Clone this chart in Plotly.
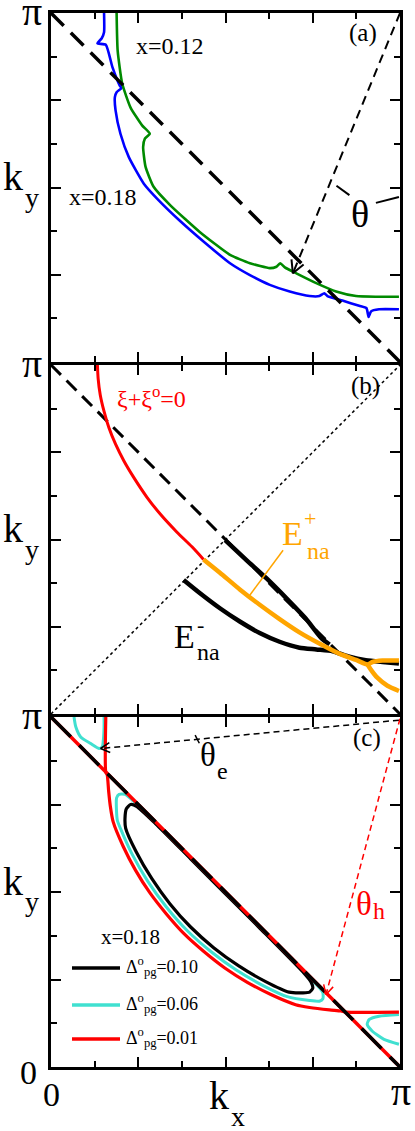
import numpy as np
import plotly.graph_objects as go

# ---------------- data (k in units of pi) ----------------
diag_kx = [0.0, 1.0]
diag_ky = [1.0, 0.0]
# panel (a): Fermi surfaces
a_blue_kx = [0.152, 0.152, 0.145, 0.133, 0.157, 0.176, 0.197, 0.202, 0.188, 0.183, 0.185, 0.199, 0.223, 0.266,
             0.308, 0.370, 0.442, 0.513, 0.570, 0.627, 0.684, 0.741, 0.769, 0.783, 0.792, 0.835, 0.883, 0.904,
             0.910, 0.917, 0.940, 0.997]
a_blue_ky = [1.0, 0.945, 0.927, 0.913, 0.909, 0.845, 0.792, 0.785, 0.773, 0.759, 0.721, 0.654, 0.587, 0.511,
             0.464, 0.404, 0.341, 0.283, 0.249, 0.221, 0.202, 0.189, 0.189, 0.197, 0.189, 0.176, 0.161, 0.154,
             0.129, 0.145, 0.151, 0.151]
a_green_kx = [0.188, 0.191, 0.204, 0.228, 0.261, 0.283, 0.269, 0.264, 0.271, 0.294, 0.342, 0.427, 0.513, 0.570,
              0.627, 0.646, 0.657, 0.670, 0.703, 0.760, 0.817, 0.874, 0.931, 0.997]
a_green_ky = [1.0, 0.892, 0.798, 0.729, 0.678, 0.654, 0.640, 0.616, 0.559, 0.502, 0.449, 0.372, 0.307, 0.283,
              0.269, 0.273, 0.283, 0.271, 0.254, 0.226, 0.202, 0.189, 0.187, 0.187]
a_theta_kx = [1.0, 0.693]
a_theta_ky = [1.0, 0.254]
a_arc1_kx, a_arc1_ky = [0.818, 0.855], [0.505, 0.478]
a_arc2_kx, a_arc2_ky = [0.931, 0.997], [0.456, 0.473]

# panel (b)
b_red_kx = [0.133, 0.135, 0.141, 0.152, 0.166, 0.185, 0.209, 0.237, 0.275, 0.313, 0.361, 0.404, 0.437]
b_red_ky = [1.0, 0.962, 0.915, 0.867, 0.820, 0.773, 0.725, 0.678, 0.621, 0.573, 0.521, 0.479, 0.443]
b_or_kx = [0.437, 0.484, 0.541, 0.598, 0.655, 0.712, 0.769, 0.826, 0.874, 0.907, 0.921, 0.950, 0.997]
b_or_ky = [0.443, 0.405, 0.357, 0.313, 0.272, 0.234, 0.202, 0.173, 0.155, 0.142, 0.149, 0.153, 0.153]
b_or2_kx = [0.907, 0.916, 0.935, 0.964, 0.997]
b_or2_ky = [0.142, 0.128, 0.104, 0.081, 0.066]
b_bk1_kx = [0.499, 0.560, 0.617, 0.674, 0.731, 0.774, 0.798]
b_bk1_ky = [0.498, 0.441, 0.389, 0.332, 0.272, 0.218, 0.199]
b_bk2_kx = [0.380, 0.427, 0.484, 0.541, 0.598, 0.655, 0.712, 0.760, 0.807, 0.855, 0.902, 0.950, 0.997]
b_bk2_ky = [0.384, 0.346, 0.303, 0.265, 0.232, 0.207, 0.190, 0.185, 0.180, 0.164, 0.154, 0.149, 0.145]
b_ptr_kx, b_ptr_ky = [0.665, 0.570], [0.469, 0.341]

# panel (c)
c_red_kx = [0.157, 0.157, 0.161, 0.165, 0.170, 0.178, 0.207, 0.242, 0.283, 0.330, 0.381, 0.438, 0.498, 0.5625,
            0.630, 0.701, 0.741, 0.798, 0.831, 0.845, 0.997]
c_red_ky = [1.0, 0.842, 0.835, 0.790, 0.745, 0.701, 0.630, 0.5625, 0.498, 0.438, 0.381, 0.330, 0.283, 0.242,
            0.207, 0.178, 0.170, 0.163, 0.160, 0.157, 0.157]
c_black_kx = [0.214, 0.244, 0.289, 0.341, 0.400, 0.466, 0.538, 0.615, 0.682, 0.722, 0.741, 0.750, 0.745, 0.725,
              0.600, 0.500, 0.400, 0.300, 0.245, 0.228, 0.216, 0.212, 0.214]
c_black_ky = [0.682, 0.615, 0.538, 0.466, 0.400, 0.341, 0.289, 0.244, 0.214, 0.212, 0.214, 0.225, 0.243, 0.268,
              0.395, 0.495, 0.595, 0.695, 0.745, 0.750, 0.738, 0.710, 0.682]
c_cyan_kx = [0.190, 0.201, 0.232, 0.277, 0.330, 0.390, 0.458, 0.531, 0.609, 0.677, 0.741, 0.769, 0.779, 0.779,
             0.769, 0.500, 0.226, 0.212, 0.195, 0.188, 0.190]
c_cyan_ky = [0.705, 0.677, 0.609, 0.531, 0.458, 0.390, 0.330, 0.277, 0.232, 0.201, 0.190, 0.188, 0.195, 0.212,
             0.226, 0.495, 0.769, 0.779, 0.779, 0.769, 0.705]
c_cyan_tl_kx = [0.066, 0.071, 0.085, 0.114, 0.138, 0.147, 0.150, 0.152, 0.152]
c_cyan_tl_ky = [1.0, 0.972, 0.943, 0.924, 0.910, 0.915, 0.934, 0.972, 1.0]
c_cyan_br_kx = [0.997, 0.940, 0.912, 0.906, 0.920, 0.954, 0.997]
c_cyan_br_ky = [0.150, 0.145, 0.136, 0.122, 0.103, 0.079, 0.065]
c_te_kx, c_te_ky = [0.997, 0.142], [0.991, 0.910]
c_th_kx, c_th_ky = [1.0, 0.788], [0.995, 0.207]
c_temark_kx, c_temark_ky = [0.413, 0.425], [0.948, 0.925]

# ---------------- layout helpers ----------------
W, H = 415, 1131
X0, X1 = 51, 400
PANELS = [(13, 362), (365, 714), (717, 1067)]  # pixel top/bottom of each plot area
FONT = "Liberation Serif, Times New Roman, Times, serif"

fig = go.Figure()


def line(xs, ys, p, color, width, dash=None, shape="spline", smoothing=0.6):
    fig.add_trace(go.Scatter(x=xs, y=ys, mode="lines", xaxis="x" + ("" if p == 1 else str(p)),
                             yaxis="y" + ("" if p == 1 else str(p)),
                             line=dict(color=color, width=width, dash=dash, shape=shape, smoothing=smoothing),
                             showlegend=False, hoverinfo="skip"))


def arrowhead(xs, ys, p, color, L, width, ang=28):
    x0, y0, x1, y1 = xs[0], ys[0], xs[1], ys[1]
    d = np.array([x1 - x0, y1 - y0])
    d = d / np.linalg.norm(d)
    out_x, out_y = [], []
    for s in (1, -1):
        a = np.radians(ang) * s
        r = np.array([d[0] * np.cos(a) - d[1] * np.sin(a), d[0] * np.sin(a) + d[1] * np.cos(a)])
        out_x.append(x1 - L * r[0])
        out_y.append(y1 - L * r[1])
    line([out_x[0], x1, out_x[1]], [out_y[0], y1, out_y[1]], p, color, width, shape="linear")


OFF = {"cap": 0.0, "x": 0.11, "desc": 0.22, "paren": 0.08}
annots = []


def ann(text, cx, cy, size, color="black", kind="cap", xanchor="center"):
    cyb = cy - OFF[kind] * size
    annots.append(dict(text=text, x=cx / W, y=1 - cyb / H, xref="paper", yref="paper", showarrow=False,
                       xanchor=xanchor, yanchor="middle", font=dict(family=FONT, size=size, color=color)))


# ---------------- panel (a) ----------------
line(a_blue_kx, a_blue_ky, 1, "#0000ff", 2.6, smoothing=0.5)
line(a_green_kx, a_green_ky, 1, "#008a00", 2.6, smoothing=0.5)
line(diag_kx, diag_ky, 1, "black", 3.5, dash="18px,10px", shape="linear")
line(a_theta_kx, a_theta_ky, 1, "black", 2, dash="9px,6px", shape="linear")
arrowhead(a_theta_kx, a_theta_ky, 1, "black", 0.04, 2)
line(a_arc1_kx, a_arc1_ky, 1, "black", 2, shape="linear")
line(a_arc2_kx, a_arc2_ky, 1, "black", 2, shape="linear")

# ---------------- panel (b) ----------------
line([0, 1], [0, 1], 2, "black", 1.5, dash="dot", shape="linear")
line(diag_kx, diag_ky, 2, "black", 3, dash="14px,8px", shape="linear")
line(b_red_kx, b_red_ky, 2, "#ff0000", 3)
line(b_bk2_kx, b_bk2_ky, 2, "black", 4.5)
line(b_bk1_kx, b_bk1_ky, 2, "black", 4.5)
line(b_or_kx, b_or_ky, 2, "#ffa500", 4.5)
line(b_or2_kx, b_or2_ky, 2, "#ffa500", 4.5)
line(b_ptr_kx, b_ptr_ky, 2, "#ffa500", 1.5, shape="linear")

# ---------------- panel (c) ----------------
line(c_cyan_tl_kx, c_cyan_tl_ky, 3, "#40e0d0", 3)
line(c_cyan_br_kx, c_cyan_br_ky, 3, "#40e0d0", 3)
line(c_cyan_kx, c_cyan_ky, 3, "#40e0d0", 3)
line(c_black_kx, c_black_ky, 3, "black", 3.2)
line(c_red_kx, c_red_ky, 3, "#ff0000", 3.2)
line(diag_kx, diag_ky, 3, "#ff0000", 3.5, shape="linear")
line(diag_kx, diag_ky, 3, "black", 3.5, dash="28px,12px", shape="linear")
line(c_te_kx, c_te_ky, 3, "black", 1.5, dash="6px,4px", shape="linear")
arrowhead(c_te_kx, c_te_ky, 3, "black", 0.03, 1.5)
line(c_temark_kx, c_temark_ky, 3, "black", 1.5, shape="linear")
line(c_th_kx, c_th_ky, 3, "#ff0000", 1.5, dash="6px,4px", shape="linear")
arrowhead(c_th_kx, c_th_ky, 3, "#ff0000", 0.03, 1.5)

# ---------------- axes ----------------
axcommon = dict(range=[0, 1], showline=True, linecolor="black", linewidth=3, mirror="allticks",
                ticks="inside", ticklen=10, tickwidth=2, tickcolor="black", tick0=0, dtick=0.25,
                showticklabels=False, showgrid=False, zeroline=False,
                minor=dict(dtick=0.125, tick0=0, ticklen=6, tickwidth=2, tickcolor="black", ticks="inside",
                           showgrid=False))
lay = dict(width=W, height=H, margin=dict(l=0, r=0, t=0, b=0), paper_bgcolor="white", plot_bgcolor="white",
           showlegend=False, font=dict(family=FONT))
for i, (t, b) in enumerate(PANELS, start=1):
    s = "" if i == 1 else str(i)
    lay["xaxis" + s] = dict(axcommon, domain=[X0 / W, X1 / W], anchor="y" + s)
    lay["yaxis" + s] = dict(axcommon, domain=[1 - b / H, 1 - t / H], anchor="x" + s)

# ---------------- text ----------------
for (t, b) in PANELS:
    ann("π", 32, t + 3, 40, kind="x")
    ann("k", 13, (t + b) / 2 - 11, 40)
    ann("y", 31.5, (t + b) / 2 + 16, 28, kind="desc")
ann("0", 28, 1072, 34)
ann("0", 51, 1094, 34)
ann("π", 401, 1096, 40, kind="x")
ann("k", 219, 1095, 40)
ann("x", 237.5, 1119.5, 28, kind="x")

ann("(a)", 363, 35, 25, kind="paren")
ann("x=0.12", 170, 46, 24)
ann("x=0.18", 103, 197, 24)
ann("θ", 360, 214, 38)

ann("(b)", 365, 388, 25, kind="paren")
ann("ξ+ξ<sup>o</sup>=0", 151, 397, 24, color="#ff0000")
ann("E", 292, 533, 34, color="#ffa500")
ann("+", 310, 518, 22, color="#ffa500")
ann("na", 318.5, 553.5, 24, color="#ffa500", kind="x")
ann("E", 184, 636, 34)
ann("-", 200, 624, 22)
ann("na", 208.5, 655, 24, kind="x")

ann("(c)", 367, 740, 25, kind="paren")
ann("θ", 207.5, 755, 33)
ann("e", 222, 773.5, 24, kind="x")
ann("θ", 363.5, 903.5, 33, color="#ff0000")
ann("h", 378.5, 911, 24, color="#ff0000")
ann("x=0.18", 130, 936.5, 21)

leg_labels = ["Δ<sup>o</sup><sub>pg</sub>=0.10", "Δ<sup>o</sup><sub>pg</sub>=0.06", "Δ<sup>o</sup><sub>pg</sub>=0.01"]
leg_colors = ["black", "#40e0d0", "#ff0000"]
leg_y = [968, 1005, 1039]
shapes = []
for lab, col, yy in zip(leg_labels, leg_colors, leg_y):
    shapes.append(dict(type="line", xref="paper", yref="paper", x0=72 / W, x1=120 / W, y0=1 - yy / H,
                       y1=1 - yy / H, line=dict(color=col, width=3.5)))
    ann(lab, 124, yy - 2, 18, xanchor="left")

lay["annotations"] = annots
lay["shapes"] = shapes
fig.update_layout(**lay)
fig.write_html("out.html", config={"displayModeBar": False},
               post_script="document.body.style.margin='0px';document.body.style.overflow='hidden';")
